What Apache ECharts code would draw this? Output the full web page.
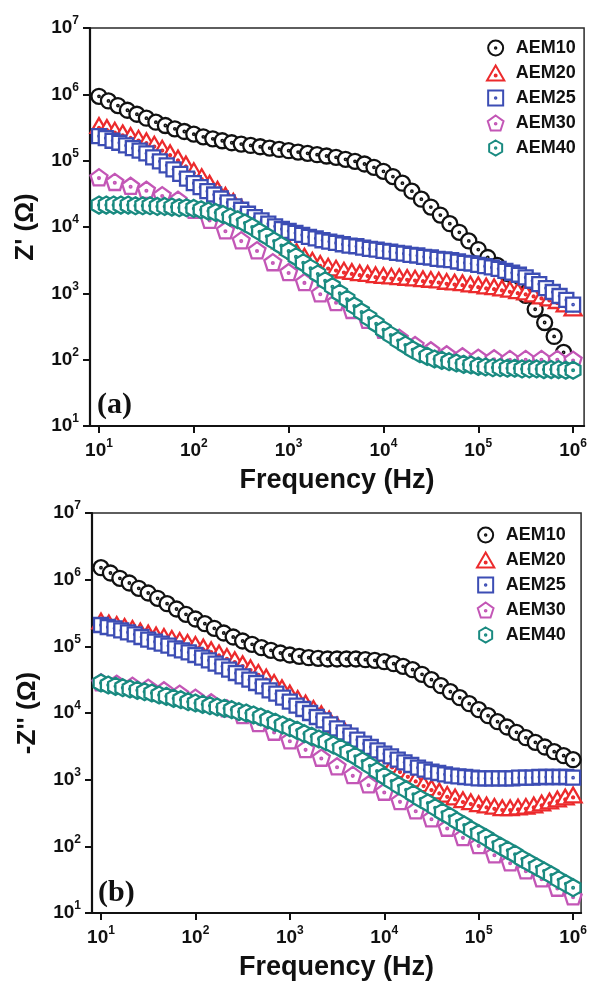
<!DOCTYPE html>
<html>
<head>
<meta charset="utf-8">
<script src="https://cdn.jsdelivr.net/npm/echarts@6/dist/echarts.min.js"></script>
<style>
html,body{margin:0;padding:0;background:#fff;}
#c{width:590px;height:984px;}
</style>
</head>
<body>
<div id="c"></div>
<script>
// ---- series names & sweep densities (points per decade, starting at 10 Hz) ----
const names = ['AEM10', 'AEM20', 'AEM25', 'AEM30', 'AEM40'];
const pointsPerDecade = { AEM10: 10, AEM20: 12, AEM25: 14, AEM30: 6, AEM40: 13 };
const xTickValues = [1e1, 1e2, 1e3, 1e4, 1e5, 1e6];
const yTickValues = [1e1, 1e2, 1e3, 1e4, 1e5, 1e6, 1e7];

// ---- panel (a): log10 of Z' (ohm) ----
const zReLog_AEM10 = [5.97,5.90,5.83,5.76,5.70,5.64,5.58,5.53,5.48,5.44,
  5.40,5.36,5.33,5.30,5.27,5.25,5.23,5.21,5.19,5.17,
  5.15,5.13,5.11,5.09,5.07,5.05,5.02,4.99,4.95,4.90,
  4.84,4.76,4.66,4.54,4.42,4.30,4.18,4.05,3.92,3.79,
  3.66,3.54,3.42,3.30,3.16,2.97,2.76,2.56,2.35,2.11];
const zReLog_AEM20 = [5.53,5.50,5.46,5.42,5.38,5.34,5.30,5.25,5.19,5.12,
  5.04,4.95,4.85,4.76,4.66,4.57,4.48,4.39,4.30,4.19,
  4.09,3.98,3.88,3.79,3.70,3.63,3.56,3.50,3.45,3.41,
  3.38,3.35,3.33,3.31,3.30,3.28,3.27,3.26,3.25,3.24,
  3.23,3.22,3.21,3.20,3.18,3.17,3.16,3.14,3.13,3.11,
  3.10,3.08,3.06,3.04,3.02,2.99,2.96,2.93,2.89,2.84,
  2.78];
const zReLog_AEM25 = [5.37,5.34,5.30,5.27,5.23,5.19,5.15,5.11,5.05,4.99,
  4.93,4.87,4.80,4.73,4.66,4.60,4.54,4.49,4.43,4.37,
  4.31,4.26,4.20,4.15,4.10,4.05,4.01,3.97,3.94,3.91,
  3.88,3.85,3.83,3.80,3.78,3.76,3.74,3.72,3.71,3.69,
  3.67,3.66,3.64,3.63,3.61,3.60,3.58,3.57,3.55,3.54,
  3.52,3.51,3.50,3.48,3.46,3.45,3.43,3.41,3.39,3.37,
  3.34,3.31,3.28,3.24,3.19,3.14,3.08,3.02,2.96,2.90,
  2.83];
const zReLog_AEM30 = [4.75,4.68,4.62,4.56,4.48,4.41,4.26,4.11,3.95,3.80,
  3.65,3.47,3.32,3.17,3.00,2.87,2.75,2.60,2.45,2.33,
  2.22,2.14,2.08,2.05,2.03,2.02,2.01,2.01,2.01,2.01,
  2.00];
const zReLog_AEM40 = [4.33,4.33,4.33,4.33,4.33,4.32,4.32,4.32,4.31,4.31,
  4.30,4.29,4.29,4.28,4.26,4.24,4.22,4.19,4.15,4.11,
  4.06,4.00,3.93,3.86,3.79,3.72,3.64,3.55,3.46,3.38,
  3.29,3.19,3.10,3.00,2.91,2.81,2.72,2.63,2.54,2.45,
  2.37,2.29,2.22,2.15,2.09,2.05,2.01,1.99,1.97,1.95,
  1.93,1.92,1.90,1.89,1.88,1.88,1.87,1.87,1.86,1.86,
  1.86,1.85,1.85,1.85,1.84,1.84];

// ---- panel (b): log10 of -Z'' (ohm) ----
const zImLog_AEM10 = [6.18,6.10,6.02,5.95,5.87,5.80,5.72,5.64,5.56,5.48,
  5.41,5.34,5.27,5.20,5.14,5.08,5.03,4.98,4.94,4.90,
  4.87,4.85,4.83,4.82,4.81,4.81,4.81,4.81,4.80,4.79,
  4.77,4.74,4.70,4.65,4.58,4.50,4.41,4.32,4.23,4.14,
  4.05,3.96,3.87,3.79,3.71,3.63,3.56,3.49,3.42,3.36,
  3.30];
const zImLog_AEM20 = [5.38,5.35,5.33,5.30,5.27,5.23,5.20,5.17,5.15,5.12,
  5.09,5.06,5.03,4.99,4.95,4.90,4.85,4.80,4.74,4.68,
  4.61,4.54,4.46,4.38,4.30,4.22,4.15,4.07,3.99,3.91,
  3.82,3.73,3.64,3.55,3.46,3.38,3.30,3.22,3.15,3.08,
  3.01,2.94,2.88,2.83,2.78,2.74,2.70,2.67,2.64,2.62,
  2.60,2.58,2.58,2.59,2.60,2.62,2.65,2.68,2.71,2.74,
  2.77];
const zImLog_AEM25 = [5.32,5.29,5.27,5.24,5.21,5.18,5.14,5.10,5.07,5.04,
  5.01,4.97,4.94,4.91,4.87,4.83,4.79,4.74,4.70,4.65,
  4.60,4.55,4.50,4.45,4.40,4.34,4.29,4.23,4.17,4.11,
  4.06,4.00,3.94,3.89,3.83,3.77,3.71,3.66,3.60,3.54,
  3.49,3.44,3.39,3.35,3.30,3.26,3.22,3.18,3.15,3.12,
  3.10,3.08,3.06,3.05,3.04,3.03,3.02,3.02,3.02,3.02,
  3.02,3.02,3.03,3.03,3.03,3.04,3.04,3.04,3.04,3.04,
  3.03];
const zImLog_AEM30 = [4.46,4.44,4.41,4.38,4.34,4.29,4.23,4.16,4.07,3.97,
  3.85,3.72,3.59,3.46,3.33,3.20,3.07,2.93,2.82,2.68,
  2.54,2.42,2.28,2.14,2.02,1.88,1.76,1.64,1.52,1.38,
  1.25];
const zImLog_AEM40 = [4.45,4.42,4.40,4.38,4.36,4.34,4.32,4.30,4.27,4.25,
  4.22,4.20,4.17,4.15,4.13,4.11,4.09,4.07,4.05,4.02,
  4.00,3.97,3.94,3.90,3.86,3.82,3.78,3.74,3.69,3.65,
  3.61,3.57,3.52,3.47,3.41,3.35,3.28,3.21,3.13,3.05,
  2.98,2.91,2.85,2.78,2.71,2.65,2.58,2.51,2.45,2.38,
  2.32,2.25,2.19,2.13,2.06,2.00,1.94,1.88,1.81,1.75,
  1.69,1.63,1.57,1.50,1.44,1.38];

const panelA = { AEM10: zReLog_AEM10, AEM20: zReLog_AEM20, AEM25: zReLog_AEM25, AEM30: zReLog_AEM30, AEM40: zReLog_AEM40 };
const panelB = { AEM10: zImLog_AEM10, AEM20: zImLog_AEM20, AEM25: zImLog_AEM25, AEM30: zImLog_AEM30, AEM40: zImLog_AEM40 };

// ---- styles ----
const colors = { AEM10: '#111111', AEM20: '#ec2a2c', AEM25: '#3c4db4', AEM30: '#c356b6', AEM40: '#198a80' };
const dot = 'M0,-1A1,1,0,1,1,0,1A1,1,0,1,1,0,-1Z';
const shapes = {
  AEM10: 'path://M0,-10A10,10,0,1,1,0,10A10,10,0,1,1,0,-10Z' + dot,
  AEM20: 'path://M0,-10L8.66,5L-8.66,5Z' + dot,
  AEM25: 'path://M-10,-10L10,-10L10,10L-10,10Z' + dot,
  AEM30: 'path://M0,-10L9.51,-3.09L5.88,8.09L-5.88,8.09L-9.51,-3.09Z' + dot,
  AEM40: 'path://M0,-10L8.66,-5L8.66,5L0,10L-8.66,5L-8.66,-5Z' + dot
};
const sizes = { AEM10: 15, AEM20: 17, AEM25: 14, AEM30: 17, AEM40: 17 };
const sans = '"Liberation Sans", Arial, Helvetica, sans-serif';

function sweep(ppd, n) {
  const f = [];
  for (let i = 0; i < n; i++) f.push(10 * Math.pow(10, i / ppd));
  return f;
}

function makeSeries(panel, gi) {
  return names.map(function (name) {
    const logs = panel[name];
    const freq = sweep(pointsPerDecade[name], logs.length);
    return {
      type: 'scatter', name: name, xAxisIndex: gi, yAxisIndex: gi,
      symbol: shapes[name], symbolSize: sizes[name], symbolKeepAspect: true,
      itemStyle: { color: '#ffffff', borderColor: colors[name], borderWidth: 2.3, opacity: 1 },
      emphasis: { disabled: true },
      silent: true,
      data: freq.map(function (f, i) { return [f, Math.pow(10, logs[i])]; })
    };
  });
}

function powLabel(v) {
  const e = Math.round(Math.log10(v));
  return '{b|10}{s|' + e + '}';
}
const labelRich = {
  b: { fontSize: 19, fontWeight: 'bold', fontFamily: sans, color: '#111', lineHeight: 26 },
  s: { fontSize: 12, fontWeight: 'bold', fontFamily: sans, color: '#111', lineHeight: 12, verticalAlign: 'top' }
};

function xAxis(gi, min, max) {
  return {
    type: 'log', gridIndex: gi, min: min, max: max, logBase: 10,
    name: 'Frequency (Hz)', nameLocation: 'middle', nameGap: 41,
    nameTextStyle: { fontSize: 27, fontWeight: 'bold', fontFamily: sans, color: '#111' },
    axisLine: { show: true, onZero: false, lineStyle: { color: '#111', width: 2.2 } },
    axisTick: { show: true, inside: false, length: 7, customValues: xTickValues, lineStyle: { color: '#111', width: 2 } },
    axisLabel: { show: true, margin: 12, customValues: xTickValues, formatter: powLabel, rich: labelRich },
    minorTick: { show: false }, splitLine: { show: false }
  };
}
function yAxis(gi, title) {
  return {
    type: 'log', gridIndex: gi, min: 9.999, max: 1.0001e7, logBase: 10,
    name: title, nameLocation: 'middle', nameGap: 51, nameRotate: 90,
    nameTextStyle: { fontSize: 26, fontWeight: 'bold', fontFamily: sans, color: '#111' },
    axisLine: { show: true, onZero: false, lineStyle: { color: '#111', width: 2.2 } },
    axisTick: { show: true, inside: false, length: 7, customValues: yTickValues, lineStyle: { color: '#111', width: 2 } },
    axisLabel: { show: true, margin: 11, customValues: yTickValues, formatter: powLabel, rich: labelRich },
    minorTick: { show: false }, splitLine: { show: false }
  };
}
function legend(left, top) {
  return {
    orient: 'vertical', left: left, top: top, data: names,
    itemWidth: 30, itemHeight: 15, itemGap: 7, padding: 0,
    selectedMode: false,
    textStyle: { fontSize: 18, fontWeight: 'bold', fontFamily: sans, color: '#111', lineHeight: 18 }
  };
}

const chart = echarts.init(document.getElementById('c'), null, { renderer: 'canvas' });
chart.setOption({
  animation: false,
  backgroundColor: '#ffffff',
  grid: [
    { left: 90, top: 28, width: 495, height: 398, show: true, borderColor: '#2a2a2a', borderWidth: 1.5, backgroundColor: 'transparent' },
    { left: 92, top: 513, width: 490, height: 400, show: true, borderColor: '#2a2a2a', borderWidth: 1.5, backgroundColor: 'transparent' }
  ],
  xAxis: [xAxis(0, 8.04, 1.306e6), xAxis(1, 8.03, 1.215e6)],
  yAxis: [yAxis(0, "Z' (\u03A9)"), yAxis(1, "-Z'' (\u03A9)")],
  legend: [legend(486, 39), legend(476, 526)],
  graphic: [
    { type: 'text', left: 97, top: 390, silent: true,
      style: { text: '(a)', font: 'bold 30px "Liberation Serif", "Times New Roman", serif', fill: '#111' } },
    { type: 'text', left: 98, top: 878, silent: true,
      style: { text: '(b)', font: 'bold 30px "Liberation Serif", "Times New Roman", serif', fill: '#111' } }
  ],
  series: makeSeries(panelA, 0).concat(makeSeries(panelB, 1))
});
</script>
</body>
</html>
